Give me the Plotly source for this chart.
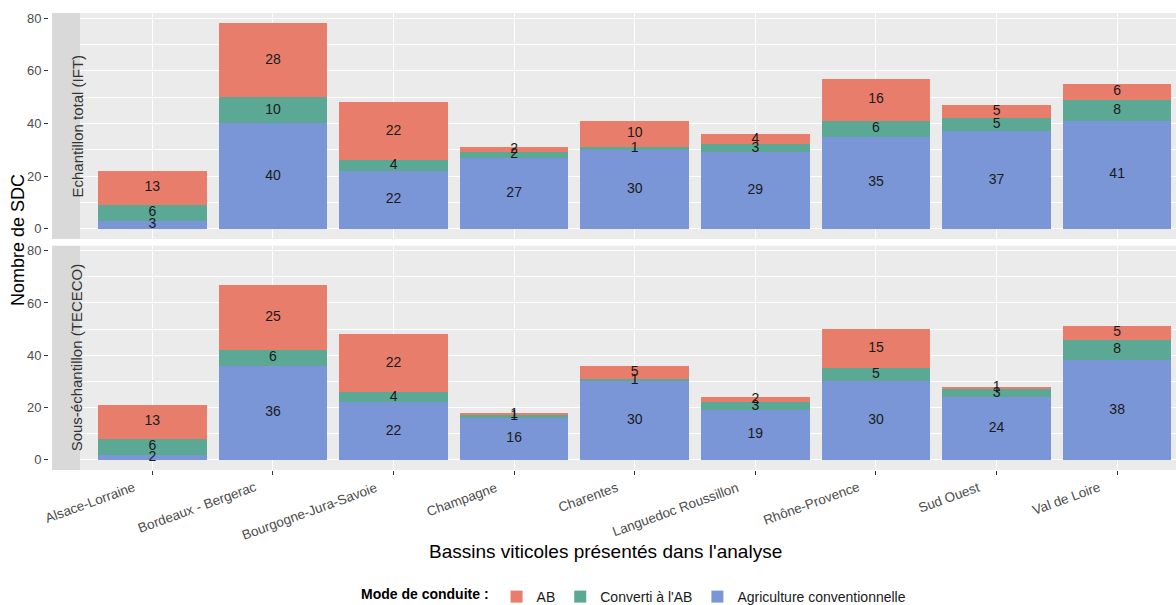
import plotly.graph_objects as go

# ---------------- data ----------------
categories = ["Alsace-Lorraine", "Bordeaux - Bergerac", "Bourgogne-Jura-Savoie", "Champagne",
              "Charentes", "Languedoc Roussillon", "Rhône-Provence", "Sud Ouest", "Val de Loire"]
facets = ["Echantillon total (IFT)", "Sous-échantillon (TECECO)"]
modes = ["Agriculture conventionnelle", "Converti à l'AB", "AB"]

ift_conventionnelle = [3, 40, 22, 27, 30, 29, 35, 37, 41]
ift_converti = [6, 10, 4, 2, 1, 3, 6, 5, 8]
ift_ab = [13, 28, 22, 2, 10, 4, 16, 5, 6]

tececo_conventionnelle = [2, 36, 22, 16, 30, 19, 30, 24, 38]
tececo_converti = [6, 6, 4, 1, 1, 3, 5, 3, 8]
tececo_ab = [13, 25, 22, 1, 5, 2, 15, 1, 5]

y_ticks = [0, 20, 40, 60, 80]

colors = {"AB": "#E97D6B", "Converti à l'AB": "#5BA894", "Agriculture conventionnelle": "#7A96D6"}

# ---------------- geometry (pixels) ----------------
W, H = 1176, 605
ML, MR, MT, MB = 49, 0, 13, 135
plot_w = W - ML - MR
plot_h = H - MT - MB
panel_left_px = 80
px_per_cat = 120.6
x0 = -0.6 - (panel_left_px - ML) / px_per_cat
x1 = x0 + plot_w / px_per_cat

top_dom = [(470 - 239) / plot_h, 1.0]
bot_dom = [0.0, (470 - 245.7) / plot_h]
y_range = [-3.9, 81.9]

font_family = "Liberation Sans, Arial, sans-serif"

fig = go.Figure()

panels = [
    (facets[0], "x", "y", [ift_conventionnelle, ift_converti, ift_ab], True),
    (facets[1], "x2", "y2", [tececo_conventionnelle, tececo_converti, tececo_ab], False),
]

for name, xa, ya, series, show in panels:
    base = [0] * len(categories)
    lab_x, lab_y, lab_t = [], [], []
    for mode, vals in zip(modes, series):
        fig.add_trace(go.Bar(
            x=categories, y=vals, name=mode, marker_color=colors[mode],
            marker_line_width=0, width=0.9, xaxis=xa, yaxis=ya,
            legendgroup=mode, showlegend=show, hoverinfo="skip",
        ))
        for i, v in enumerate(vals):
            lab_x.append(categories[i])
            lab_y.append(base[i] + v / 2)
            lab_t.append(str(v))
            base[i] += v
    fig.add_trace(go.Scatter(
        x=lab_x, y=lab_y, text=lab_t, mode="text", xaxis=xa, yaxis=ya,
        textfont=dict(size=14, color="#1A1A1A", family=font_family),
        showlegend=False, hoverinfo="skip",
    ))

axis_common = dict(
    type="category", categoryorder="array", categoryarray=categories,
    range=[x0, x1], showgrid=True, gridcolor="white", gridwidth=1.3,
    zeroline=False, showline=False, automargin=False,
)
yaxis_common = dict(
    range=y_range, tickvals=y_ticks, showgrid=True, gridcolor="white", gridwidth=1.3,
    zeroline=False, showline=False, ticks="outside", ticklen=4, tickcolor="#333333",
    tickfont=dict(size=13, color="#4D4D4D", family=font_family), automargin=False,
    minor=dict(dtick=10, tick0=0, showgrid=True, gridcolor="white", gridwidth=0.6, ticks=""),
)

fig.update_layout(
    width=W, height=H,
    margin=dict(l=ML, r=MR, t=MT, b=MB, autoexpand=False),
    paper_bgcolor="white", plot_bgcolor="white",
    barmode="stack", bargap=0.1,
    font=dict(family=font_family, color="#1A1A1A"),
    xaxis=dict(axis_common, anchor="y", domain=[0, 1], showticklabels=False, ticks=""),
    xaxis2=dict(axis_common, anchor="y2", domain=[0, 1], matches="x", ticks="outside",
                ticklen=4, tickcolor="#333333", showticklabels=False),
    yaxis=dict(yaxis_common, anchor="x", domain=top_dom),
    yaxis2=dict(yaxis_common, anchor="x2", domain=bot_dom),
    legend=dict(
        orientation="h", x=(635 - ML) / plot_w, xanchor="center",
        y=(470 - 597) / plot_h, yanchor="middle", traceorder="reversed",
        title=dict(text="<b>Mode de conduite :</b>", font=dict(size=14, color="black")),
        font=dict(size=14, color="#1A1A1A"), itemclick=False, itemwidth=30,
    ),
    showlegend=True,
)

panel_left_paper = (panel_left_px - ML) / plot_w
strip_l = (52 - ML) / plot_w
shapes = []
annotations = []
for ya, name in [("y", facets[0]), ("y2", facets[1])]:
    shapes.append(dict(type="rect", xref="paper", yref=ya + " domain", x0=panel_left_paper, x1=1,
                       y0=0, y1=1, fillcolor="#EBEBEB", line=dict(width=0), layer="below"))
    shapes.append(dict(type="rect", xref="paper", yref=ya + " domain", x0=strip_l, x1=panel_left_paper,
                       y0=0, y1=1, fillcolor="#D9D9D9", line=dict(width=0), layer="above"))
    shapes.append(dict(type="rect", xref="paper", yref=ya + " domain", x0=0, x1=strip_l,
                       y0=0, y1=1, fillcolor="white", line=dict(width=0), layer="above"))
    annotations.append(dict(text=name, xref="paper", yref=ya + " domain",
                            x=(strip_l + panel_left_paper) / 2, y=0.5, showarrow=False,
                            textangle=-90, font=dict(size=15, color="#333333")))

# rotated category labels under the bottom panel
for c in categories:
    annotations.append(dict(text=c, xref="x2", yref="paper", x=c, y=(470 - 477) / plot_h,
                            xanchor="right", yanchor="top", xshift=-12, showarrow=False,
                            textangle=-20, font=dict(size=13.5, color="#4D4D4D")))

annotations.append(dict(text="Nombre de SDC", xref="paper", yref="paper",
                        x=(18 - ML) / plot_w, y=(470 - 240) / plot_h, showarrow=False,
                        textangle=-90, font=dict(size=18, color="black"), xanchor="center"))
annotations.append(dict(text="Bassins viticoles présentés dans l'analyse", xref="paper", yref="paper",
                        x=(605 - ML) / plot_w, y=(470 - 551) / plot_h, showarrow=False,
                        font=dict(size=19, color="black"), yanchor="middle"))

fig.update_layout(shapes=shapes, annotations=annotations)
fig.write_html("out.html", config={"displayModeBar": False},
               post_script="document.body.style.margin='0';document.body.style.overflow='hidden';")
